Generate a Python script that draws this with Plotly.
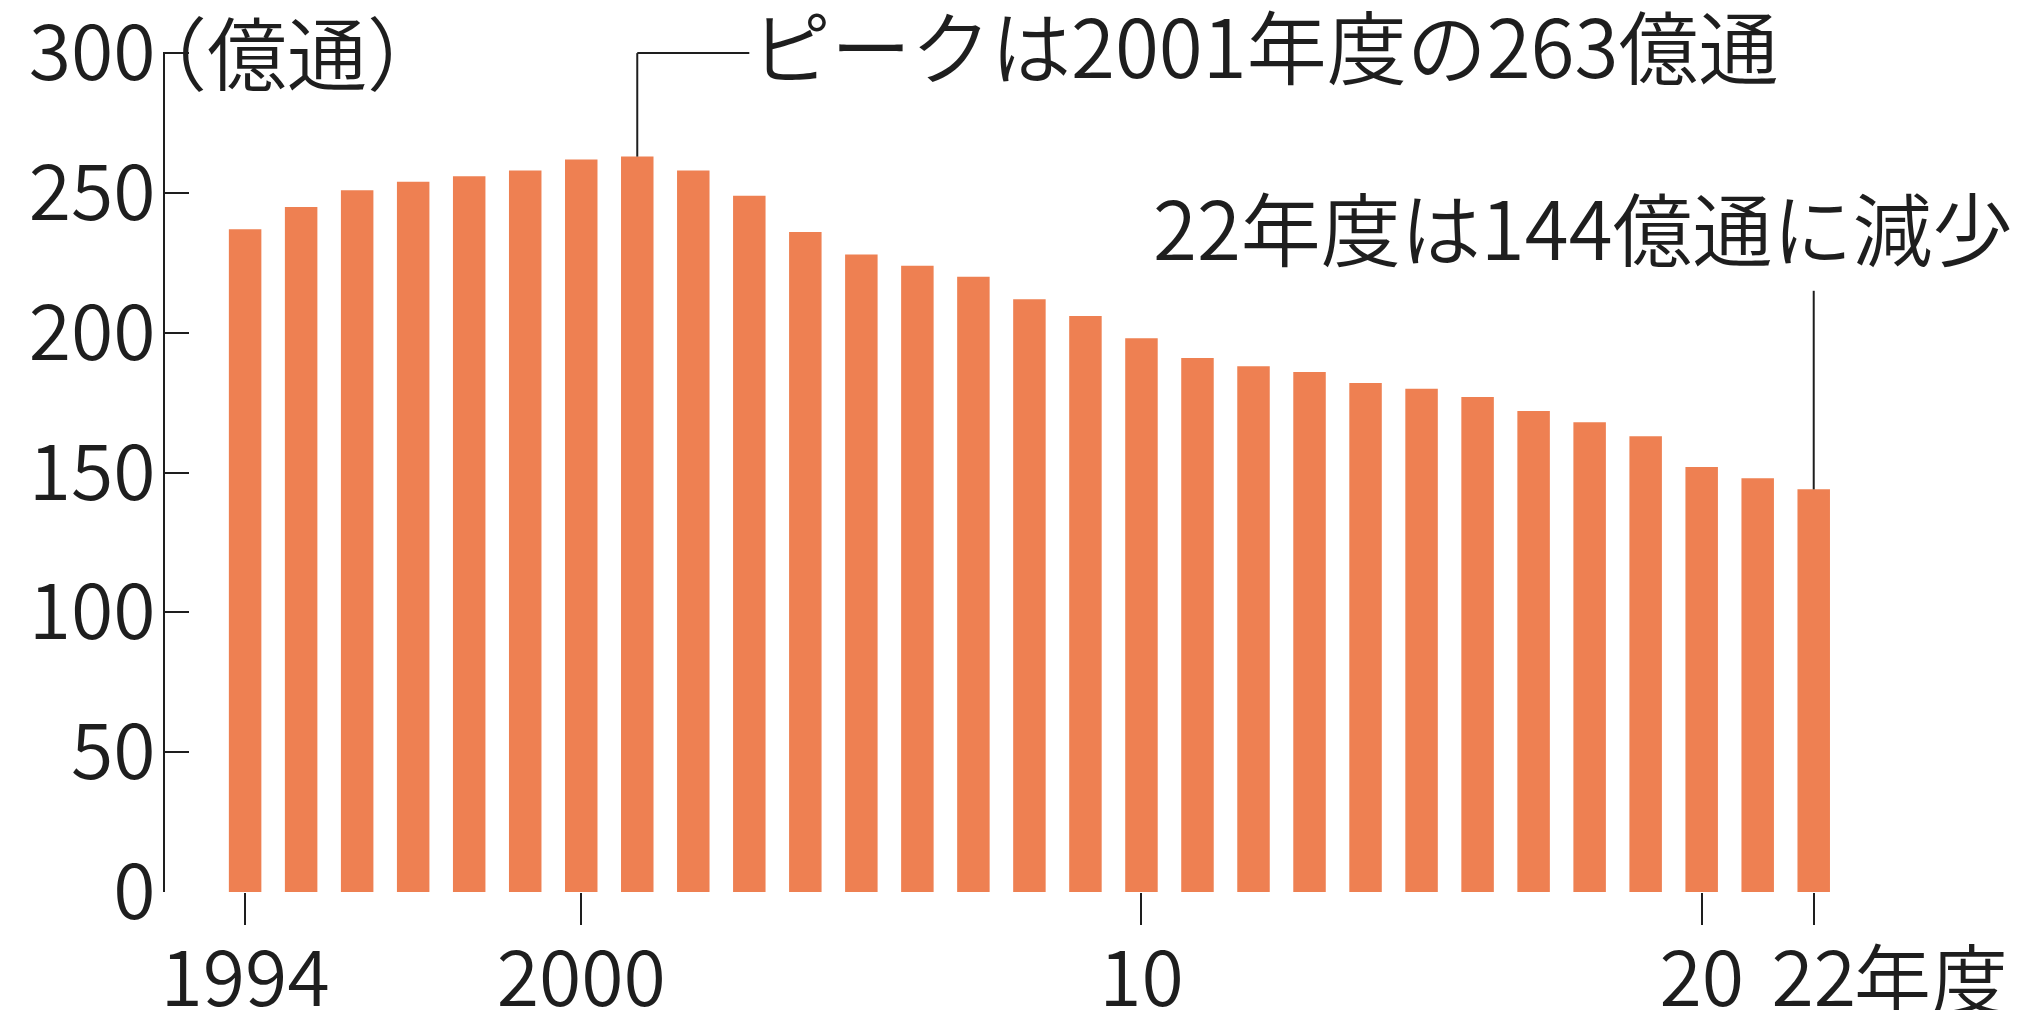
import plotly.graph_objects as go

years = list(range(1994, 2023))
volumes = [237, 245, 251, 254, 256, 258, 262, 263, 258, 249, 236, 228, 224, 220,
           212, 206, 198, 191, 188, 186, 182, 180, 177, 172, 168, 163, 152, 148, 144]
x_tickvals = [1994, 2000, 2010, 2020, 2022]
x_ticktext = ["1994", "2000", "10", "20", "22"]
y_tickvals = [0, 50, 100, 150, 200, 250, 300]
unit_label = "（億通）"
peak_label = "ピークは2001年度の263億通"
last_label = "22年度は144億通に減少"
year_suffix = "年度"

BAR = "#EE8052"
INK = "#1e1e1e"
FONT = "Noto Sans CJK JP"
FS_TICK = 77
FS_ANN = 80
W = 350

peak_i = volumes.index(max(volumes))
peak_x, peak_y = years[peak_i], volumes[peak_i]
last_x, last_y = years[-1], volumes[-1]

fig = go.Figure(go.Bar(x=years, y=volumes, marker_color=BAR, marker_line_width=0,
                       width=0.58))

fig.update_layout(
    width=2021, height=1010,
    margin=dict(l=165, r=0, t=52, b=118),
    paper_bgcolor="white", plot_bgcolor="white",
    font=dict(family=FONT, size=FS_TICK, color=INK, weight=W),
    showlegend=False,
)
fig.update_xaxes(range=[1992.57, 2025.7], tickmode="array", tickvals=x_tickvals,
                 ticktext=x_ticktext, ticks="outside", ticklen=32, tickwidth=2,
                 tickcolor=INK, showline=False, showgrid=False, zeroline=False,
                 automargin=False, ticklabeloverflow="allow", ticklabelstandoff=-11,
                 tickfont=dict(family=FONT, size=FS_TICK, color=INK, weight=W))
fig.update_yaxes(range=[0, 300.4], tickmode="array", tickvals=y_tickvals,
                 ticks="inside", ticklen=24, tickwidth=2, tickcolor=INK,
                 showline=True, linecolor=INK, linewidth=2, showgrid=False,
                 zeroline=False, ticklabelstandoff=-8, automargin=False,
                 ticklabeloverflow="allow",
                 tickfont=dict(family=FONT, size=FS_TICK, color=INK, weight=W))

# leader lines
fig.add_shape(type="line", xref="x", yref="y", x0=peak_x, x1=peak_x, y0=peak_y, y1=300,
              line=dict(color=INK, width=2))
fig.add_shape(type="line", xref="x", yref="y", x0=peak_x, x1=2003.0, y0=300, y1=300,
              line=dict(color=INK, width=2))
fig.add_shape(type="line", xref="x", yref="y", x0=last_x, x1=last_x, y0=last_y, y1=215,
              line=dict(color=INK, width=2))

fig.add_annotation(text=unit_label, xref="paper", yref="paper", x=-0.0215, y=1.004,
                   xanchor="left", yanchor="middle", showarrow=False,
                   font=dict(family=FONT, size=FS_ANN, color=INK, weight=W))
fig.add_annotation(text=peak_label, xref="x", yref="paper", x=2003.0, y=1.0107,
                   xanchor="left", yanchor="middle", showarrow=False,
                   font=dict(family=FONT, size=FS_ANN, color=INK, weight=W))
fig.add_annotation(text=last_label, xref="x", yref="y", x=2025.6, y=238.5,
                   xanchor="right", yanchor="middle", showarrow=False,
                   font=dict(family=FONT, size=FS_ANN, color=INK, weight=W))
fig.add_annotation(text=year_suffix, xref="paper", yref="paper", x=0.909, y=-0.099,
                   xanchor="left", yanchor="middle", showarrow=False,
                   font=dict(family=FONT, size=FS_TICK, color=INK, weight=W))

fig.write_html("out.html", config={"displayModeBar": False},
               post_script="document.body.style.margin='0';")
